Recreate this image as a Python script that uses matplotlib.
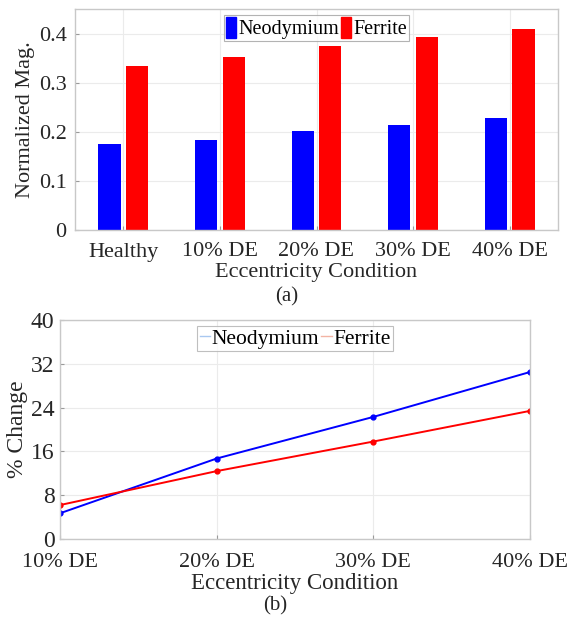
import numpy as np
import matplotlib.pyplot as plt
from matplotlib.patches import Patch
from matplotlib.lines import Line2D

plt.rcParams['font.family'] = ['Liberation Serif', 'DejaVu Serif']

# bar chart data
conditions = ["Healthy", "10% DE", "20% DE", "30% DE", "40% DE"]
neodymium_mag = [0.175, 0.183, 0.201, 0.214, 0.229]
ferrite_mag = [0.333, 0.353, 0.374, 0.392, 0.410]

# percent change data
change_labels = ["10% DE", "20% DE", "30% DE", "40% DE"]
neodymium_change = [4.7, 14.7, 22.3, 30.5]
ferrite_change = [6.2, 12.4, 17.8, 23.4]

text_color = '#262626'
grid_color = '#ebebeb'
spine_color = '#c8c8c8'

fig = plt.figure(figsize=(5.74, 6.2), dpi=100)
W, H = 574, 620

def add_axes(left, top, right, bottom):
    return fig.add_axes([left / W, 1 - bottom / H, (right - left) / W, (bottom - top) / H])

def style(ax):
    for s in ax.spines.values():
        s.set_color(spine_color)
        s.set_linewidth(1.0)
    ax.grid(True, color=grid_color, linewidth=0.8)
    ax.set_axisbelow(True)
    ax.tick_params(direction='in', length=3, color='#9a9a9a', colors=text_color)

# (a) bars
ax1 = add_axes(75, 9, 558, 230)
x = np.arange(1, len(conditions) + 1)
w = 0.23
ax1.bar(x - 0.142, neodymium_mag, w, color='blue')
ax1.bar(x + 0.142, ferrite_mag, w, color='red')
ax1.set_xlim(0.5, 5.5)
ax1.set_ylim(0, 0.45)
ax1.set_yticks([0, 0.1, 0.2, 0.3, 0.4])
ax1.set_yticklabels(["0", "0.1", "0.2", "0.3", "0.4"])
ax1.set_xticks(x)
ax1.set_xticklabels(conditions)
style(ax1)
ax1.tick_params(labelsize=16, pad=6)
ax1.tick_params(axis='x', pad=9)
ax1.set_ylabel("Normalized Mag.", fontsize=16, color=text_color, labelpad=3)
ax1.set_xlabel("Eccentricity Condition", fontsize=16, color=text_color, labelpad=1)
handles = [Patch(color='blue'), Patch(color='red')]
leg1 = ax1.legend(handles, ["Neodymium", "Ferrite"], loc='upper center', ncol=2,
                  fontsize=14.5, frameon=True, fancybox=False, handlelength=0.5,
                  handleheight=1.2, handletextpad=0.1, columnspacing=0.1,
                  borderpad=0.1, borderaxespad=0.3)
leg1.get_frame().set_edgecolor('#a0a0a0')
leg1.get_frame().set_linewidth(0.8)

# (b) lines
ax2 = add_axes(60, 320, 530, 539)
xc = np.arange(len(change_labels))
ax2.plot(xc, neodymium_change, color='blue', marker='o', markersize=3.5, linewidth=1.4)
ax2.plot(xc, ferrite_change, color='red', marker='o', markersize=3.5, linewidth=1.4)
ax2.set_xlim(0, 3)
ax2.set_ylim(0, 40)
ax2.set_yticks([0, 8, 16, 24, 32, 40])
ax2.set_xticks(xc)
ax2.set_xticklabels(change_labels)
style(ax2)
ax2.tick_params(axis='y', labelsize=17, pad=4)
ax2.tick_params(axis='x', labelsize=16, pad=10)
ax2.set_ylabel("% Change", fontsize=17, color=text_color, labelpad=2)
ax2.set_xlabel("Eccentricity Condition", fontsize=16.5, color=text_color, labelpad=1)
lh = [Line2D([], [], color='#a9c8f0', linewidth=1.0), Line2D([], [], color='#f3b4a4', linewidth=1.0)]
leg2 = ax2.legend(lh, ["Neodymium", "Ferrite"], loc='upper center', ncol=2,
                  fontsize=15.5, frameon=True, fancybox=False, handlelength=0.5,
                  handletextpad=0.05, columnspacing=0.1, borderpad=0.1,
                  borderaxespad=0.3)
leg2.get_frame().set_edgecolor('#b0b0b0')
leg2.get_frame().set_linewidth(0.8)

fig.text(287 / W, 1 - 297 / H, "(a)", ha='center', va='center', fontsize=15, color=text_color)
fig.text(275 / W, 1 - 606 / H, "(b)", ha='center', va='center', fontsize=15, color=text_color)

fig.savefig("out.png", dpi=100)
